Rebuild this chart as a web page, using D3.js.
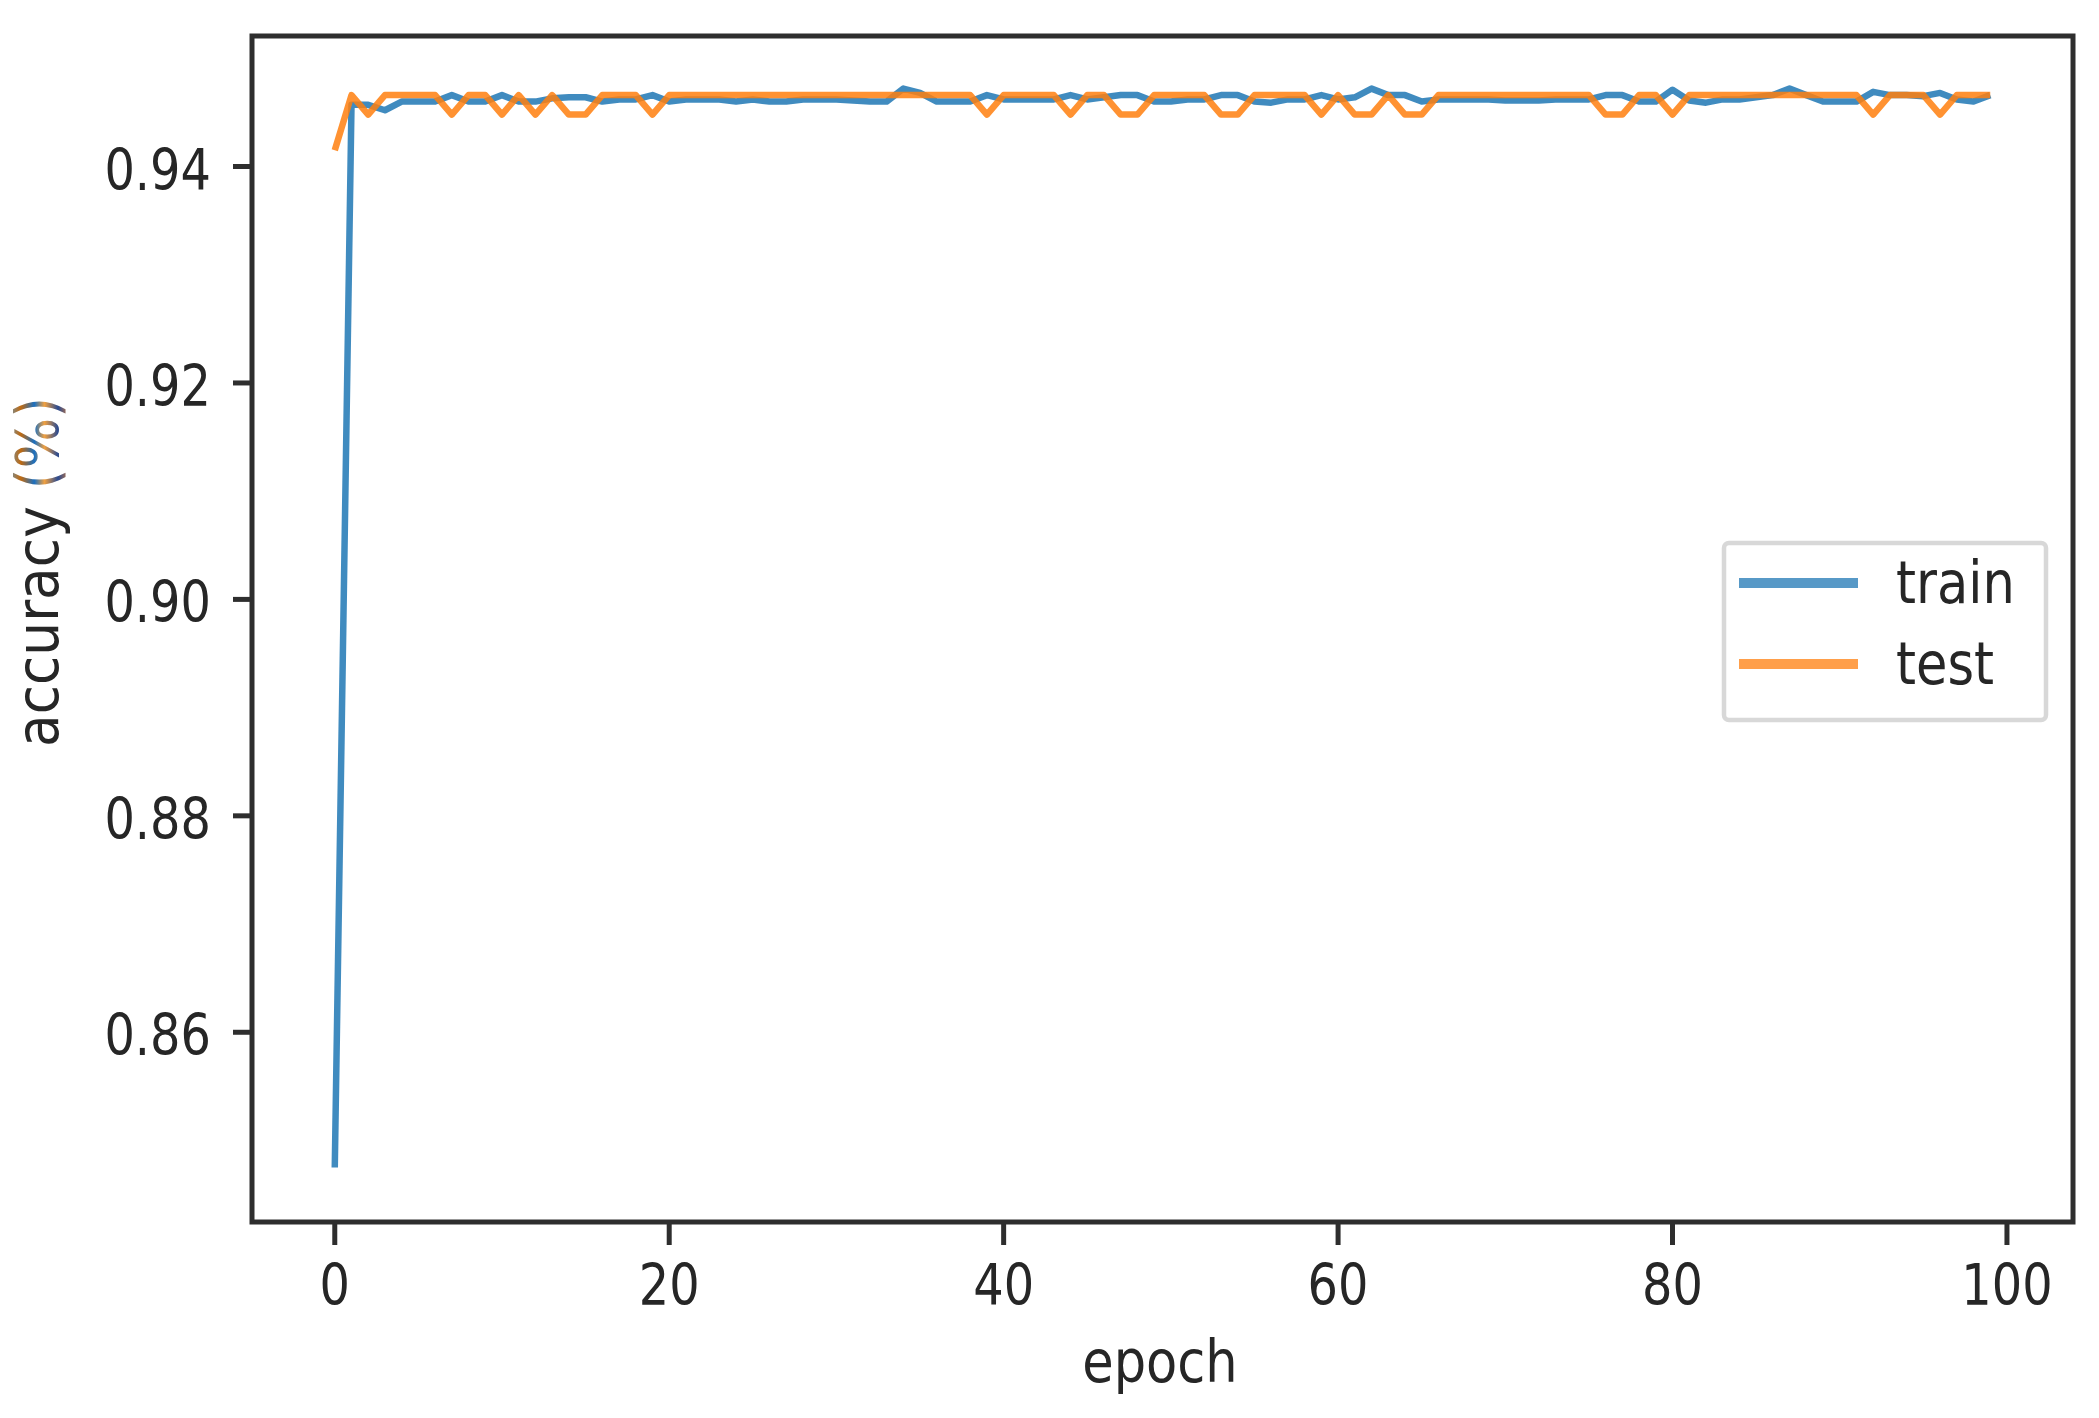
<!DOCTYPE html>
<html>
<head>
<meta charset="utf-8">
<script src="https://cdn.jsdelivr.net/npm/d3@7"></script>
<style>
  body { margin: 0; background: #fff; }
  text { font-family: "DejaVu Sans", sans-serif; fill: #262626; }
</style>
</head>
<body>
<div id="chart"></div>
<script>
// accuracy per epoch
var epochs = d3.range(0, 100);

var trainAcc = [
  0.8475, 0.9457, 0.9457, 0.9452, 0.9460, 0.9460, 0.9460, 0.9466, 0.9460, 0.9460,
  0.9466, 0.9460, 0.9460, 0.9463, 0.9464, 0.9464, 0.9460, 0.9462, 0.9462, 0.9466,
  0.9460, 0.9462, 0.9462, 0.9462, 0.9460, 0.9462, 0.9460, 0.9460, 0.9462, 0.9462,
  0.9462, 0.9461, 0.9460, 0.9460, 0.9472, 0.9468, 0.9460, 0.9460, 0.9460, 0.9466,
  0.9462, 0.9462, 0.9462, 0.9462, 0.9466, 0.9462, 0.9464, 0.9466, 0.9466, 0.9460,
  0.9460, 0.9462, 0.9462, 0.9466, 0.9466, 0.9460, 0.9459, 0.9462, 0.9462, 0.9466,
  0.9462, 0.9464, 0.9472, 0.9466, 0.9466, 0.9460, 0.9462, 0.9462, 0.9462, 0.9462,
  0.9461, 0.9461, 0.9461, 0.9462, 0.9462, 0.9462, 0.9466, 0.9466, 0.9460, 0.9460,
  0.9471, 0.9461, 0.9459, 0.9462, 0.9462, 0.9464, 0.9466, 0.9472, 0.9466, 0.9460,
  0.9460, 0.9460, 0.9469, 0.9466, 0.9466, 0.9465, 0.9468, 0.9462, 0.9460, 0.9466
];

var testAcc = [
  0.9415, 0.9466, 0.9448, 0.9466, 0.9466, 0.9466, 0.9466, 0.9448, 0.9466, 0.9466,
  0.9448, 0.9466, 0.9448, 0.9466, 0.9448, 0.9448, 0.9466, 0.9466, 0.9466, 0.9448,
  0.9466, 0.9466, 0.9466, 0.9466, 0.9466, 0.9466, 0.9466, 0.9466, 0.9466, 0.9466,
  0.9466, 0.9466, 0.9466, 0.9466, 0.9466, 0.9466, 0.9466, 0.9466, 0.9466, 0.9448,
  0.9466, 0.9466, 0.9466, 0.9466, 0.9448, 0.9466, 0.9466, 0.9448, 0.9448, 0.9466,
  0.9466, 0.9466, 0.9466, 0.9448, 0.9448, 0.9466, 0.9466, 0.9466, 0.9466, 0.9448,
  0.9466, 0.9448, 0.9448, 0.9466, 0.9448, 0.9448, 0.9466, 0.9466, 0.9466, 0.9466,
  0.9466, 0.9466, 0.9466, 0.9466, 0.9466, 0.9466, 0.9448, 0.9448, 0.9466, 0.9466,
  0.9448, 0.9466, 0.9466, 0.9466, 0.9466, 0.9466, 0.9466, 0.9466, 0.9466, 0.9466,
  0.9466, 0.9466, 0.9448, 0.9466, 0.9466, 0.9466, 0.9448, 0.9466, 0.9466, 0.9466
];

var xTicks = [0, 20, 40, 60, 80, 100];
var yTicks = [0.86, 0.88, 0.90, 0.92, 0.94];
var seriesNames = ["train", "test"];
var seriesColors = ["#1f77b4", "#ff7f0e"];

var W = 2099, H = 1418;
var plot = {left: 252, right: 2073, top: 36, bottom: 1222};

var svg = d3.select("#chart").append("svg")
    .attr("width", W).attr("height", H);

// x limits like matplotlib default margins (5% of 0..99)
var x = d3.scaleLinear().domain([-4.95, 103.95]).range([plot.left, plot.right]);
var y = d3.scaleLinear().domain([0.842468, 0.952061]).range([plot.bottom, plot.top]);

// lines first, frame on top
var line = d3.line()
    .x(function(d, i) { return x(epochs[i]); })
    .y(function(d) { return y(d); });

[trainAcc, testAcc].forEach(function(vals, k) {
    svg.append("path")
        .datum(vals)
        .attr("d", line)
        .attr("fill", "none")
        .attr("stroke", seriesColors[k])
        .attr("stroke-opacity", 0.85)
        .attr("stroke-width", 6.5)
        .attr("stroke-linejoin", "round");
});

// helper: horizontally squeezed text, the picture's font is narrow
function label(g, tx, ty, str, size, anchor, sx) {
    return g.append("text")
        .attr("transform", "translate(" + tx + "," + ty + ") scale(" + sx + ",1)")
        .attr("text-anchor", anchor)
        .style("font-size", size + "px")
        .text(str);
}

var axisColor = "#2e2e2e";

// ticks
xTicks.forEach(function(t) {
    svg.append("line")
        .attr("x1", x(t)).attr("x2", x(t))
        .attr("y1", plot.bottom).attr("y2", plot.bottom + 23)
        .attr("stroke", axisColor).attr("stroke-width", 5);
    label(svg, x(t), 1305, d3.format("d")(t), 57, "middle", 0.84);
});
yTicks.forEach(function(t) {
    svg.append("line")
        .attr("x1", plot.left - 19).attr("x2", plot.left)
        .attr("y1", y(t)).attr("y2", y(t))
        .attr("stroke", axisColor).attr("stroke-width", 5);
    label(svg, 211, y(t) + 23, d3.format(".2f")(t), 57, "end", 0.84);
});

// frame
svg.append("rect")
    .attr("x", plot.left).attr("y", plot.top)
    .attr("width", plot.right - plot.left).attr("height", plot.bottom - plot.top)
    .attr("fill", "none").attr("stroke", axisColor).attr("stroke-width", 5);

// axis titles
label(svg, 1160, 1382, "epoch", 58, "middle", 0.88);

var grad = svg.append("defs").append("linearGradient")
    .attr("id", "pctFill")
    .attr("x1", 0).attr("y1", 0).attr("x2", 0).attr("y2", 1);
[["0%", "#4aa3e8"], ["25%", "#c06a10"], ["45%", "#1a6fc0"], ["60%", "#f0a040"],
 ["80%", "#2a4a90"], ["100%", "#e08030"]].forEach(function(s) {
    grad.append("stop").attr("offset", s[0]).attr("stop-color", s[1]);
});

var ylab = svg.append("text")
    .attr("transform", "translate(58,572) rotate(-90) scale(0.92,1)")
    .attr("text-anchor", "middle")
    .style("font-size", "58px");
ylab.append("tspan").text("accuracy ");
ylab.append("tspan").style("fill", "url(#pctFill)").text("(%)");

// legend
var leg = svg.append("g");
leg.append("rect")
    .attr("x", 1724).attr("y", 543).attr("width", 322).attr("height", 177)
    .attr("rx", 5).attr("fill", "#fff")
    .attr("stroke", "#d8d8d8").attr("stroke-width", 4.5);
seriesNames.forEach(function(name, k) {
    var ly = 583 + k * 81;
    leg.append("line")
        .attr("x1", 1739).attr("x2", 1858)
        .attr("y1", ly).attr("y2", ly)
        .attr("stroke", seriesColors[k]).attr("stroke-opacity", 0.75)
        .attr("stroke-width", 10);
    label(leg, 1896, ly + 20, name, 58, "start", 0.88);
});
</script>
</body>
</html>
